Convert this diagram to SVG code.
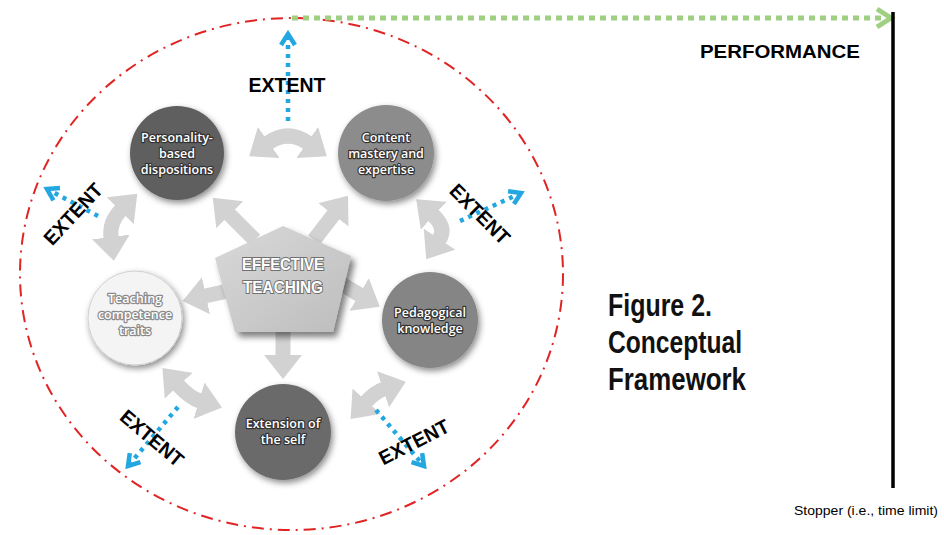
<svg xmlns="http://www.w3.org/2000/svg" width="944" height="535" viewBox="0 0 944 535">
<defs>
<style>
.ntxt{font-family:"Open Sans","Noto Sans",sans-serif;font-size:12.5px;font-weight:600;fill:#fff;stroke:#333;stroke-width:2.4px;paint-order:stroke;stroke-linejoin:round;text-anchor:middle}
.ext{font-family:"Liberation Sans",Arial,sans-serif;font-weight:bold;font-size:20px;fill:#000;text-anchor:middle}
.fig{font-family:"Liberation Sans",Arial,sans-serif;font-weight:bold;font-size:31px;fill:#111}
.garrow{fill:none;stroke:#d2d2d2;stroke-width:15}
.blue{fill:none;stroke:#22a7e0;stroke-width:4.5;stroke-dasharray:4 5}
</style>
<filter id="sh" x="-30%" y="-30%" width="160%" height="160%">
<feDropShadow dx="2" dy="3" stdDeviation="3" flood-color="#000" flood-opacity="0.45"/>
</filter>
<filter id="shp" x="-30%" y="-30%" width="160%" height="160%">
<feDropShadow dx="4" dy="5" stdDeviation="3" flood-color="#000" flood-opacity="0.5"/>
</filter>
<linearGradient id="pg" x1="0" y1="0" x2="1" y2="1">
<stop offset="0" stop-color="#d9d9d9"/>
<stop offset="1" stop-color="#bdbdbd"/>
</linearGradient>
<marker id="gh" markerUnits="userSpaceOnUse" markerWidth="24" markerHeight="38" viewBox="0 0 24 38" refX="1" refY="19" orient="auto-start-reverse">
<path d="M0,0 L24,19 L0,38 Z" fill="#d2d2d2"/>
</marker>
<marker id="bh" markerUnits="userSpaceOnUse" markerWidth="18" markerHeight="18" viewBox="0 0 18 18" refX="14" refY="9" orient="auto">
<path d="M3,2 L14,9 L3,16" fill="none" stroke="#22a7e0" stroke-width="4.5"/>
</marker>
</defs>
<rect width="944" height="535" fill="#fff"/>

<ellipse cx="291.5" cy="274" rx="271.5" ry="256" fill="none" stroke="#e02424" stroke-width="2" stroke-dasharray="12 6 2 6"/>

<g id="connectors">
<path class="garrow" d="M268,143 Q288,129 308,143" marker-start="url(#gh)" marker-end="url(#gh)"/>
<path class="garrow" d="M433,215 Q447,228 439,240" marker-start="url(#gh)" marker-end="url(#gh)"/>
<path class="garrow" d="M366,402 Q375,392 384,389" marker-start="url(#gh)" marker-end="url(#gh)"/>
<path class="garrow" d="M178,385 Q190,398 200,401" marker-start="url(#gh)" marker-end="url(#gh)"/>
<path class="garrow" d="M121,210 Q109,222 111,238" marker-start="url(#gh)" marker-end="url(#gh)"/>
<path class="garrow" d="M255,240 L229,214" marker-end="url(#gh)"/>
<path class="garrow" d="M314,240 L334,214" marker-end="url(#gh)"/>
<path class="garrow" d="M228,291 L205,296" marker-end="url(#gh)"/>
<path class="garrow" d="M338,282 L360,295" marker-end="url(#gh)"/>
<path class="garrow" d="M283,330 L283,356" marker-end="url(#gh)"/>
<path class="blue" d="M288,121 L288,34" marker-end="url(#bh)"/>
<path class="blue" d="M98,216 L47,189" marker-end="url(#bh)"/>
<path class="blue" d="M460,221 L521,193" marker-end="url(#bh)"/>
<path class="blue" d="M178,407 L128,466" marker-end="url(#bh)"/>
<path class="blue" d="M376,410 L424,466" marker-end="url(#bh)"/>
<path d="M292,18 L884,18" fill="none" stroke="#9fd082" stroke-width="5" stroke-dasharray="6 5"/>
<path d="M877,9 L891,18 L877,27" fill="none" stroke="#9fd082" stroke-width="5"/>
<line x1="893" y1="12" x2="893" y2="488" stroke="#000" stroke-width="3.5"/>
</g>

<g id="effective-teaching">
<polygon points="283,226 351,256 333,332 235,332 215,258" fill="url(#pg)" filter="url(#shp)"/>
<text x="283" y="270" font-family="Liberation Sans,Arial,sans-serif" font-weight="bold" font-size="17" fill="#fff" stroke="#6f6f6f" stroke-width="2" paint-order="stroke" text-anchor="middle" textLength="82" lengthAdjust="spacingAndGlyphs">EFFECTIVE</text>
<text x="283" y="293" font-family="Liberation Sans,Arial,sans-serif" font-weight="bold" font-size="17" fill="#fff" stroke="#6f6f6f" stroke-width="2" paint-order="stroke" text-anchor="middle" textLength="80" lengthAdjust="spacingAndGlyphs">TEACHING</text>
</g>

<g id="personality">
<circle cx="177" cy="153" r="47" fill="#5f5f5f" filter="url(#sh)"/>
<text class="ntxt" x="177" y="142">Personality-</text>
<text class="ntxt" x="177" y="158">based</text>
<text class="ntxt" x="177" y="174">dispositions</text>
</g>

<g id="content">
<circle cx="386" cy="153" r="48" fill="#8c8c8c" filter="url(#sh)"/>
<text class="ntxt" x="386" y="142">Content</text>
<text class="ntxt" x="386" y="158">mastery and</text>
<text class="ntxt" x="386" y="174">expertise</text>
</g>

<g id="pedagogical">
<circle cx="430" cy="320" r="48" fill="#858585" filter="url(#sh)"/>
<text class="ntxt" x="430" y="317">Pedagogical</text>
<text class="ntxt" x="430" y="333">knowledge</text>
</g>

<g id="extension">
<circle cx="283" cy="432" r="48" fill="#6b6b6b" filter="url(#sh)"/>
<text class="ntxt" x="283" y="428">Extension of</text>
<text class="ntxt" x="283" y="444">the self</text>
</g>

<g id="teaching-competence">
<circle cx="135" cy="318" r="47" fill="#f4f4f4" stroke="#d0d0d0" stroke-width="1" filter="url(#sh)"/>
<text class="ntxt" x="135" y="303" style="stroke:#8a8a8a">Teaching</text>
<text class="ntxt" x="135" y="319" style="stroke:#8a8a8a">competence</text>
<text class="ntxt" x="135" y="335" style="stroke:#8a8a8a">traits</text>
</g>

<g id="labels">
<text class="ext" x="287" y="92" font-size="21" textLength="77" lengthAdjust="spacingAndGlyphs">EXTENT</text>
<text class="ext" transform="translate(73,214) rotate(-47)" x="0" y="7" textLength="76" lengthAdjust="spacingAndGlyphs">EXTENT</text>
<text class="ext" transform="translate(480,214) rotate(45)" x="0" y="7" textLength="76" lengthAdjust="spacingAndGlyphs">EXTENT</text>
<text class="ext" transform="translate(152,438) rotate(40)" x="0" y="7" textLength="76" lengthAdjust="spacingAndGlyphs">EXTENT</text>
<text class="ext" transform="translate(414,442) rotate(-27)" x="0" y="7" textLength="76" lengthAdjust="spacingAndGlyphs">EXTENT</text>
<text x="780" y="58" font-family="Liberation Sans,Arial,sans-serif" font-weight="bold" font-size="19" text-anchor="middle" textLength="160" lengthAdjust="spacingAndGlyphs">PERFORMANCE</text>
<text class="fig" x="608" y="316" textLength="104" lengthAdjust="spacingAndGlyphs">Figure 2.</text>
<text class="fig" x="608" y="353" textLength="134" lengthAdjust="spacingAndGlyphs">Conceptual</text>
<text class="fig" x="608" y="390" textLength="138" lengthAdjust="spacingAndGlyphs">Framework</text>
<text x="794" y="515" font-family="Liberation Sans,Arial,sans-serif" font-size="13" textLength="144" lengthAdjust="spacingAndGlyphs">Stopper (i.e., time limit)</text>
</g>
</svg>
